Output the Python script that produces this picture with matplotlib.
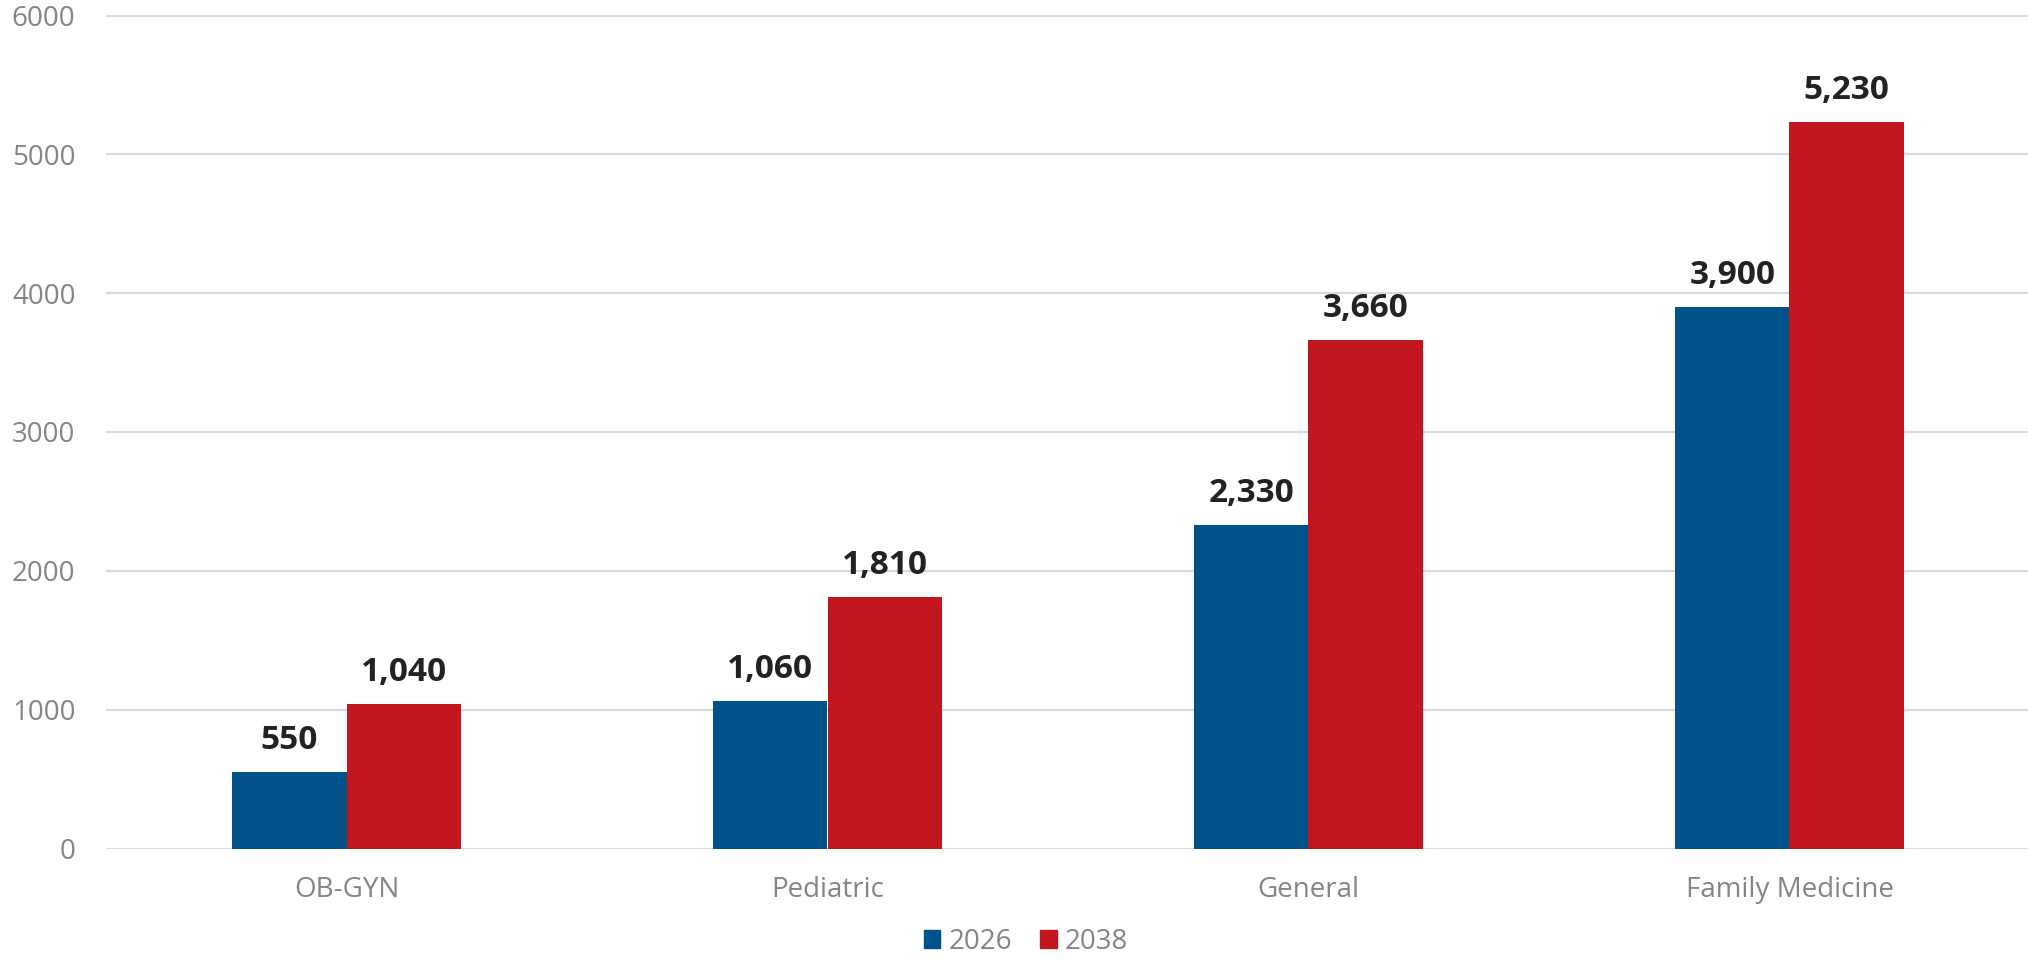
import numpy as np
import matplotlib.pyplot as plt
from matplotlib.patches import Patch

plt.rcParams['font.family'] = ['Open Sans', 'DejaVu Sans']

categories = ["OB-GYN", "Pediatric", "General", "Family Medicine"]
years = ["2026", "2038"]
values_2026 = [550, 1060, 2330, 3900]
values_2038 = [1040, 1810, 3660, 5230]

blue = "#00538A"
red = "#C1161D"
grey = "#858585"

fig = plt.figure(figsize=(20.28, 9.59), dpi=100)
ax = fig.add_axes([106 / 2028, 110.5 / 959, 1924 / 2028, 833 / 959])

x = np.arange(len(categories))
w = 0.238
b1 = ax.bar(x - w / 2, values_2026, w, color=blue, zorder=3)
b2 = ax.bar(x + w / 2, values_2038, w, color=red, zorder=3)

for bars, vals in [(b1, values_2026), (b2, values_2038)]:
    for bar, v in zip(bars, vals):
        ax.annotate(f"{v:,}", (bar.get_x() + bar.get_width() / 2, v),
                    xytext=(0, 11), textcoords="offset points",
                    ha="center", va="bottom", fontsize=24, fontweight="bold",
                    color="#222222")

ax.set_xlim(-0.5, 3.5)
ax.set_ylim(0, 6000)
ax.set_yticks(range(0, 6001, 1000))
ax.set_xticks(x)
ax.set_xticklabels(categories)
ax.tick_params(axis="both", length=0, labelsize=20, labelcolor=grey)
ax.tick_params(axis="y", pad=22)
ax.tick_params(axis="x", pad=20)
ax.grid(axis="y", color="#D9D9D9", linewidth=1.5, zorder=0)
for s in ax.spines.values():
    s.set_visible(False)

handles = [Patch(color=blue, label=years[0]), Patch(color=red, label=years[1])]
fig.legend(handles=handles, loc="center", bbox_to_anchor=(1026 / 2028, 1 - 942 / 959),
           ncol=2, frameon=False, fontsize=20, labelcolor=grey,
           handlelength=0.6, handleheight=0.6, handletextpad=0.3, columnspacing=1.0)

fig.savefig("out.png", dpi=100)
